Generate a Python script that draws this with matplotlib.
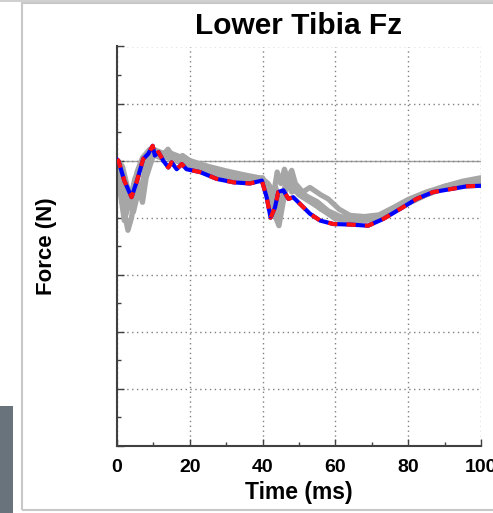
import matplotlib
matplotlib.use("Agg")
import matplotlib.pyplot as plt
from matplotlib.patches import Rectangle
from matplotlib.ticker import MultipleLocator

plt.rcParams['font.family'] = ['Liberation Sans', 'DejaVu Sans']

# ---- data (time in ms, force in arbitrary kN-like units) ----
main_t = [0, 0.4, 2, 4, 5.5, 7.2, 8.6, 9.8, 10.4, 11.4, 12.7, 14.1, 15, 16.4, 17.8, 19.1,
          22.8, 27.4, 32, 36.5, 39.8, 41.1, 42.2, 43.4, 44.3, 45.7, 47.1, 48.4, 50.3,
          53, 55.8, 59.4, 64, 69, 73.2, 77.7, 82.3, 86.9, 91.5, 96.1, 100]
main_v = [0.02, 0, -0.35, -0.64, -0.35, 0.03, 0.12, 0.26, 0.09, 0.15, 0.0, -0.12, -0.03, -0.15, -0.06, -0.15,
          -0.2, -0.32, -0.38, -0.4, -0.35, -0.64, -1.0, -0.82, -0.55, -0.52, -0.67, -0.64, -0.76,
          -0.93, -1.05, -1.11, -1.12, -1.14, -1.02, -0.85, -0.67, -0.55, -0.5, -0.45, -0.44]

gray1_t = [0, 1, 2, 3, 4, 5, 6, 8, 10, 12, 15, 20, 25, 30, 35, 40, 41, 42, 43, 44, 45,
           46, 47, 48, 50, 55, 60, 65, 70, 75, 80, 85, 90, 95, 100]
gray1_v = [0, -0.3, -0.9, -1.22, -1.0, -0.5, -0.2, 0.05, 0.15, 0.1, 0.02, -0.08, -0.2, -0.28,
           -0.32, -0.3, -0.5, -0.8, -0.6, -0.2, -0.4, -0.15, -0.35, -0.45, -0.6, -0.8, -1.02,
           -1.05, -1.02, -0.9, -0.75, -0.6, -0.48, -0.4, -0.35]

gray2_t = [0, 1.5, 3, 4.5, 6, 7, 8, 10, 12, 14, 16, 18, 20, 25, 30, 35, 39, 41, 43, 44.5,
           46, 47, 48, 49, 51, 53, 56, 58, 61, 64, 68, 72, 76, 80, 85, 90, 95, 100]
gray2_v = [0, -0.1, -0.5, -0.9, -0.5, -0.73, -0.3, 0.1, 0.05, 0.2, 0.0, 0.09, 0.0, -0.1,
           -0.18, -0.25, -0.3, -0.45, -0.9, -1.14, -0.6, -0.3, -0.17, -0.4, -0.55, -0.47,
           -0.6, -0.67, -0.85, -0.96, -0.98, -0.95, -0.82, -0.68, -0.55, -0.45, -0.38, -0.32]

gray3_t = [0, 1, 2, 3.5, 5, 6.5, 8, 10, 13, 16, 20, 25, 30, 35, 40, 42, 43.5, 45, 46.5,
           48, 50, 53, 56, 60, 65, 70, 75, 80, 85, 90, 95, 100]
gray3_v = [0, -0.6, -1.05, -0.7, -0.3, -0.55, -0.05, 0.2, 0.12, 0.05, -0.05, -0.15, -0.22,
           -0.3, -0.35, -0.7, -0.45, -0.8, -0.35, -0.55, -0.5, -0.7, -0.85, -0.98, -1.0,
           -1.02, -0.9, -0.72, -0.58, -0.45, -0.36, -0.3]

gray4_t = [0, 1, 2.5, 4, 5.5, 7, 9, 11, 14, 18, 22, 27, 32, 37, 40, 41.5, 43, 44.5, 46,
           47.5, 49, 52, 55, 58, 62, 66, 70, 74, 78, 82, 86, 90, 95, 100]
gray4_v = [0, -0.15, -0.8, -0.6, -0.2, 0.05, 0.2, 0.1, 0.15, 0.05, -0.05, -0.18, -0.28,
           -0.33, -0.32, -0.4, -0.55, -0.95, -0.5, -0.25, -0.45, -0.62, -0.72, -0.88, -1.0,
           -1.05, -1.04, -0.95, -0.8, -0.66, -0.55, -0.47, -0.4, -0.37]

gray_t = [gray1_t, gray2_t, gray3_t, gray4_t]
gray_v = [gray1_v, gray2_v, gray3_v, gray4_v]

x_ticks = [0, 20, 40, 60, 80, 100]

# ---- figure ----
fig = plt.figure(figsize=(4.93, 5.13), dpi=100)

# panel frame and decorations
fig.patches.append(Rectangle((22 / 493, 3 / 513), 1.0, 1 - 6 / 513, transform=fig.transFigure,
                             fill=False, edgecolor='#c8c8c8', linewidth=1.5, zorder=0))
fig.patches.append(Rectangle((0, 1 - 2 / 513), 1.0, 2 / 513, transform=fig.transFigure,
                             facecolor='#d0d0d0', edgecolor='none'))
fig.patches.append(Rectangle((0, 0), 13 / 493, (513 - 406) / 513, transform=fig.transFigure,
                             facecolor='#69737c', edgecolor='none'))

ax = fig.add_axes([117 / 493, 1 - 446 / 513, (481 - 117) / 493, (446 - 46.5) / 513])
ax.set_xlim(0, 100)
ax.set_ylim(-5, 2)

for t, v in zip(gray_t, gray_v):
    ax.plot(t, v, color='#a6a6a6', linewidth=3.8, solid_capstyle='round', zorder=2)

ax.axhline(0, color='#a0a0a0', linewidth=1.0, zorder=1)

ax.plot(main_t, main_v, color='#0000ff', linewidth=3.0, zorder=3)
ax.plot(main_t, main_v, color='#ff1010', linewidth=3.0, linestyle=(0, (2.2, 2.2)), zorder=4)

ax.xaxis.set_major_locator(MultipleLocator(20))
ax.xaxis.set_minor_locator(MultipleLocator(10))
ax.yaxis.set_major_locator(MultipleLocator(1))
ax.yaxis.set_minor_locator(MultipleLocator(0.5))
ax.set_xticks(x_ticks)
ax.set_xticklabels([str(x) for x in x_ticks], fontsize=14, fontweight='bold')
ax.set_yticklabels([])
ax.tick_params(which='both', direction='in', color='#404040', width=1)
ax.tick_params(which='major', length=5)
ax.tick_params(which='minor', length=3)
ax.tick_params(axis='x', pad=9)

ax.grid(True, which='major', color='#808080', linestyle=(0, (1, 2.5)), linewidth=1.0)
for s in ['top', 'right']:
    ax.spines[s].set_visible(False)
for s in ['left', 'bottom']:
    ax.spines[s].set_color('#404040')
    ax.spines[s].set_linewidth(1.5)

ax.set_title('Lower Tibia Fz', fontsize=21.5, fontweight='bold', pad=9)
ax.set_xlabel('Time (ms)', fontsize=16.5, fontweight='bold', labelpad=4)
ax.set_ylabel('Force (N)', fontsize=16, fontweight='bold')
ax.yaxis.set_label_coords((57 - 117) / 364, 0.5)

fig.savefig('out.png', dpi=100)
